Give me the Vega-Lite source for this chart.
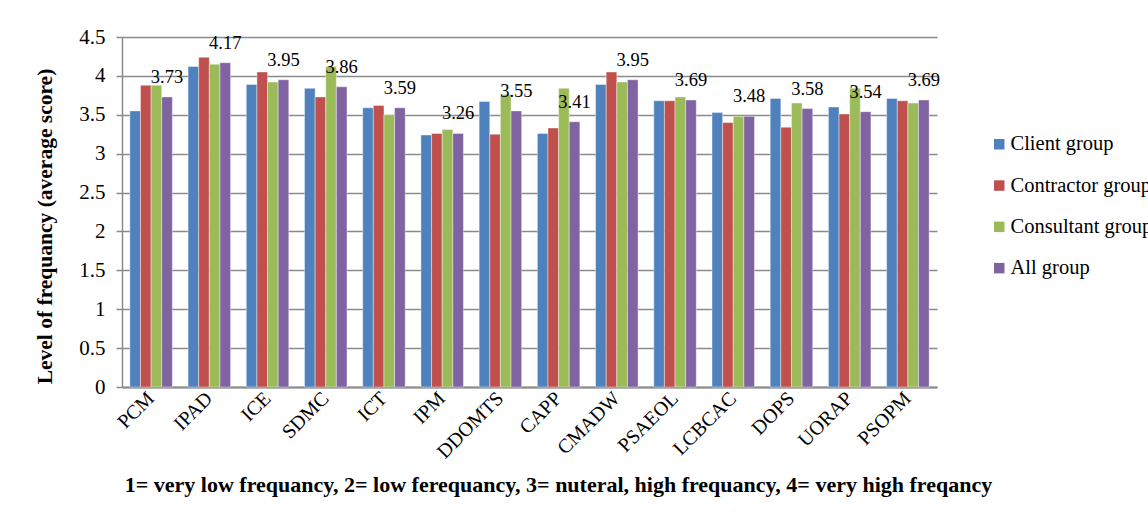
{
  "$schema": "https://vega.github.io/schema/vega-lite/v6.json",
  "width": 815,
  "height": 350,
  "autosize": {"type": "none"},
  "padding": {"left": 122, "top": 37, "right": 211, "bottom": 142},
  "background": "white",
  "config": {
    "font": "Liberation Serif, Times New Roman, serif",
    "view": {"stroke": null},
    "axis": {"labelFont": "Liberation Serif, Times New Roman, serif", "titleFont": "Liberation Serif, Times New Roman, serif"},
    "legend": {"labelFont": "Liberation Serif, Times New Roman, serif"},
    "text": {"font": "Liberation Serif, Times New Roman, serif"}
  },
  "data": {
    "values": [
      {"factor": "PCM", "group": "Client group", "score": 3.55},
      {"factor": "PCM", "group": "Contractor group", "score": 3.88},
      {"factor": "PCM", "group": "Consultant group", "score": 3.88},
      {"factor": "PCM", "group": "All group", "score": 3.73},
      {"factor": "IPAD", "group": "Client group", "score": 4.12},
      {"factor": "IPAD", "group": "Contractor group", "score": 4.24},
      {"factor": "IPAD", "group": "Consultant group", "score": 4.15},
      {"factor": "IPAD", "group": "All group", "score": 4.17},
      {"factor": "ICE", "group": "Client group", "score": 3.89},
      {"factor": "ICE", "group": "Contractor group", "score": 4.05},
      {"factor": "ICE", "group": "Consultant group", "score": 3.92},
      {"factor": "ICE", "group": "All group", "score": 3.95},
      {"factor": "SDMC", "group": "Client group", "score": 3.84},
      {"factor": "SDMC", "group": "Contractor group", "score": 3.73},
      {"factor": "SDMC", "group": "Consultant group", "score": 4.12},
      {"factor": "SDMC", "group": "All group", "score": 3.86},
      {"factor": "ICT", "group": "Client group", "score": 3.59},
      {"factor": "ICT", "group": "Contractor group", "score": 3.62},
      {"factor": "ICT", "group": "Consultant group", "score": 3.5},
      {"factor": "ICT", "group": "All group", "score": 3.59},
      {"factor": "IPM", "group": "Client group", "score": 3.24},
      {"factor": "IPM", "group": "Contractor group", "score": 3.26},
      {"factor": "IPM", "group": "Consultant group", "score": 3.31},
      {"factor": "IPM", "group": "All group", "score": 3.26},
      {"factor": "DDOMTS", "group": "Client group", "score": 3.67},
      {"factor": "DDOMTS", "group": "Contractor group", "score": 3.25},
      {"factor": "DDOMTS", "group": "Consultant group", "score": 3.76},
      {"factor": "DDOMTS", "group": "All group", "score": 3.55},
      {"factor": "CAPP", "group": "Client group", "score": 3.26},
      {"factor": "CAPP", "group": "Contractor group", "score": 3.33},
      {"factor": "CAPP", "group": "Consultant group", "score": 3.84},
      {"factor": "CAPP", "group": "All group", "score": 3.41},
      {"factor": "CMADW", "group": "Client group", "score": 3.89},
      {"factor": "CMADW", "group": "Contractor group", "score": 4.05},
      {"factor": "CMADW", "group": "Consultant group", "score": 3.92},
      {"factor": "CMADW", "group": "All group", "score": 3.95},
      {"factor": "PSAEOL", "group": "Client group", "score": 3.68},
      {"factor": "PSAEOL", "group": "Contractor group", "score": 3.68},
      {"factor": "PSAEOL", "group": "Consultant group", "score": 3.73},
      {"factor": "PSAEOL", "group": "All group", "score": 3.69},
      {"factor": "LCBCAC", "group": "Client group", "score": 3.53},
      {"factor": "LCBCAC", "group": "Contractor group", "score": 3.4},
      {"factor": "LCBCAC", "group": "Consultant group", "score": 3.48},
      {"factor": "LCBCAC", "group": "All group", "score": 3.48},
      {"factor": "DOPS", "group": "Client group", "score": 3.71},
      {"factor": "DOPS", "group": "Contractor group", "score": 3.34},
      {"factor": "DOPS", "group": "Consultant group", "score": 3.65},
      {"factor": "DOPS", "group": "All group", "score": 3.58},
      {"factor": "UORAP", "group": "Client group", "score": 3.6},
      {"factor": "UORAP", "group": "Contractor group", "score": 3.51},
      {"factor": "UORAP", "group": "Consultant group", "score": 3.84},
      {"factor": "UORAP", "group": "All group", "score": 3.54},
      {"factor": "PSOPM", "group": "Client group", "score": 3.71},
      {"factor": "PSOPM", "group": "Contractor group", "score": 3.68},
      {"factor": "PSOPM", "group": "Consultant group", "score": 3.65},
      {"factor": "PSOPM", "group": "All group", "score": 3.69}
    ]
  },
  "encoding": {
    "x": {
      "field": "factor",
      "type": "nominal",
      "sort": ["PCM", "IPAD", "ICE", "SDMC", "ICT", "IPM", "DDOMTS", "CAPP", "CMADW", "PSAEOL", "LCBCAC", "DOPS", "UORAP", "PSOPM"],
      "scale": {"paddingInner": 0.27, "paddingOuter": 0.135},
      "axis": {
        "labelAngle": -45,
        "labelAlign": "right",
        "labelBaseline": "middle",
        "labelFontSize": 20,
        "labelColor": "#000000",
        "labelPadding": 8,
        "ticks": false,
        "grid": false,
        "domainColor": "#8a8a8a",
        "domainWidth": 2,
        "title": "1= very low frequancy, 2= low ferequancy, 3= nuteral, high frequancy, 4= very high freqancy",
        "titleFontSize": 22,
        "titleFontWeight": "bold",
        "titleColor": "#000000",
        "titleX": 436,
        "titleY": 97,
        "titleAlign": "center",
        "titleBaseline": "middle"
      }
    },
    "xOffset": {
      "field": "group",
      "type": "nominal",
      "sort": ["Client group", "Contractor group", "Consultant group", "All group"],
      "scale": {"domain": ["Client group", "Contractor group", "Consultant group", "All group"], "paddingInner": 0, "paddingOuter": 0}
    },
    "y": {
      "field": "score",
      "type": "quantitative",
      "scale": {"domain": [0, 4.5], "nice": false, "zero": true},
      "axis": {
        "values": [0, 0.5, 1, 1.5, 2, 2.5, 3, 3.5, 4, 4.5],
        "format": "~g",
        "grid": true,
        "gridColor": "#8a8a8a",
        "gridWidth": 1.5,
        "domainColor": "#8a8a8a",
        "domainWidth": 1.5,
        "tickColor": "#8a8a8a",
        "tickWidth": 1.5,
        "tickSize": 6,
        "labelFontSize": 21,
        "labelColor": "#000000",
        "labelPadding": 11,
        "title": "Level of frequancy (average score)",
        "titleFontSize": 21.5,
        "titleFontWeight": "bold",
        "titleColor": "#000000",
        "titleAngle": -90,
        "titleX": -77,
        "titleY": 189,
        "titleAlign": "center",
        "titleBaseline": "middle"
      }
    }
  },
  "layer": [
    {
      "mark": {"type": "bar", "stroke": "#ffffff", "strokeWidth": 0.5, "strokeOpacity": 0.8},
      "encoding": {
        "color": {
          "field": "group",
          "type": "nominal",
          "scale": {
            "domain": ["Client group", "Contractor group", "Consultant group", "All group"],
            "range": ["#4F81BD", "#C0504D", "#9BBB59", "#8064A2"]
          },
          "legend": {
            "title": null,
            "orient": "none",
            "legendX": 867,
            "legendY": 97,
            "padding": 0,
            "symbolType": "square",
            "symbolSize": 110,
            "symbolStrokeWidth": 0,
            "labelFontSize": 20.5,
            "labelColor": "#000000",
            "labelOffset": 1,
            "rowPadding": 20.3,
            "labelLimit": 400
          }
        }
      }
    },
    {
      "transform": [{"filter": "datum.group === 'All group'"}],
      "mark": {"type": "text", "baseline": "middle", "dy": -20, "fontSize": 18.5, "color": "#000000", "font": "Liberation Serif, Times New Roman, serif"},
      "encoding": {
        "text": {"field": "score", "type": "quantitative", "format": ".2f"}
      }
    }
  ]
}
